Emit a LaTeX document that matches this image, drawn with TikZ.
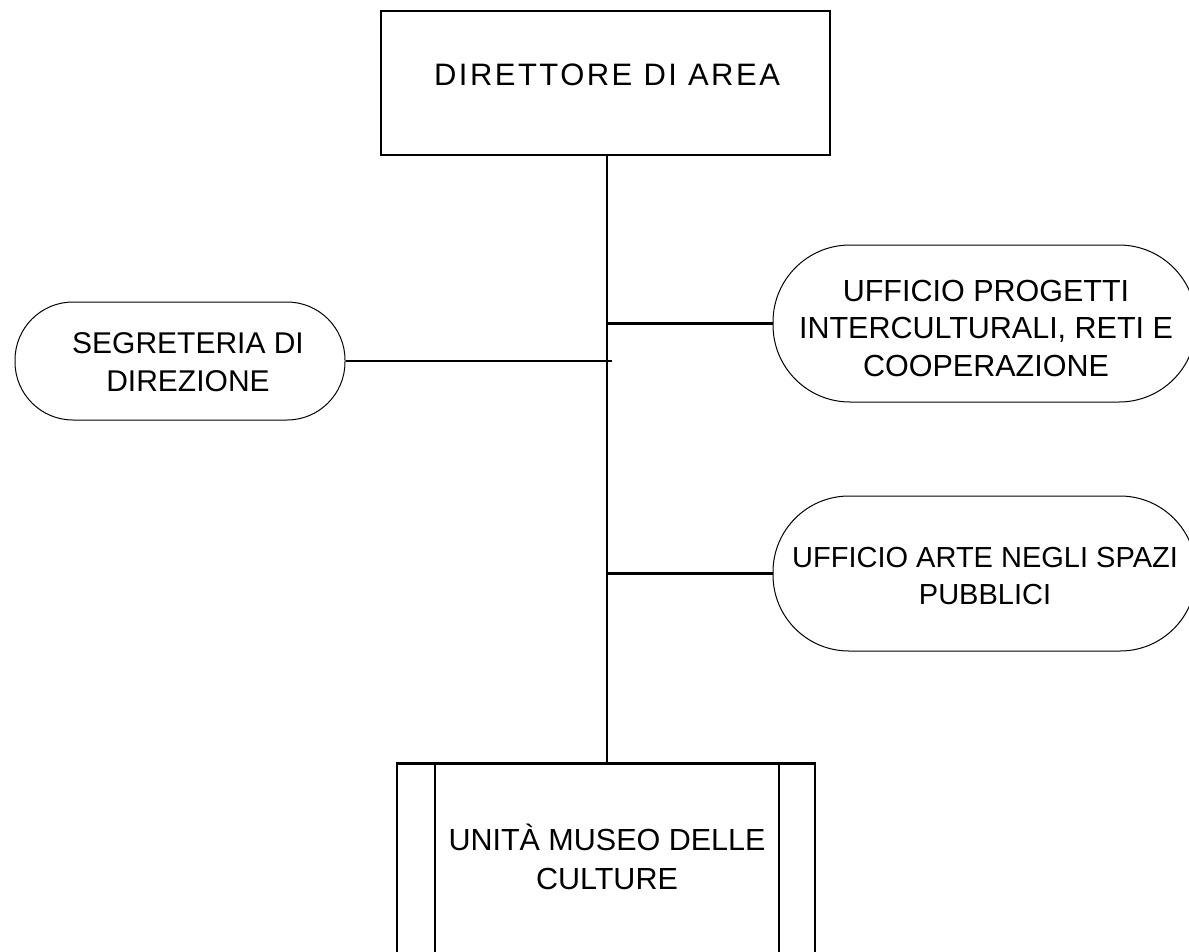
\documentclass[tikz,border=0pt]{standalone}
\usepackage{fontspec}
\setmainfont{Liberation Sans}
\begin{document}
\begin{tikzpicture}[x=1pt,y=-1pt,
  lbl/.style={align=center,inner sep=0pt,font=\fontsize{30}{38}\selectfont},
  boxthick/.style={draw,line width=2.8pt,inner sep=0pt},
  pill/.style={draw,line width=1pt,inner sep=0pt},
  conn/.style={line width=2.8pt}]
\useasboundingbox (0,0) rectangle (1189,951);
% top box
\node[boxthick,minimum width=449pt,minimum height=144pt] (dir) at (605.5,83) {};
\node[lbl,font=\fontsize{31}{38}\selectfont\addfontfeature{LetterSpace=8}] (dirt) at (607,75) {DIRETTORE DI AREA};
% pills
\node[pill,rounded corners=58pt,minimum width=330pt,minimum height=118pt] (seg) at (180,361) {};
\node[lbl] (segt) at (188,362) {SEGRETERIA DI\\DIREZIONE};
\node[pill,rounded corners=77pt,minimum width=423pt,minimum height=157pt] (upi) at (984.5,323.5) {};
\node[lbl,font=\fontsize{30.5}{37.5}\selectfont] (upit) at (986,328) {UFFICIO PROGETTI\\INTERCULTURALI, RETI E\\COOPERAZIONE};
\node[pill,rounded corners=76pt,minimum width=423pt,minimum height=155pt] (uas) at (984.5,573.5) {};
\node[lbl,font=\fontsize{29}{37}\selectfont] (uast) at (985,576) {UFFICIO ARTE NEGLI SPAZI\\PUBBLICI};
% bottom box
\node[boxthick,minimum width=418pt,minimum height=220pt,anchor=north] (mus) at (606,762) {};
\draw[line width=2.8pt] (435,762) -- (435,985);
\draw[line width=2.8pt] (779,762) -- (779,985);
\node[lbl,font=\fontsize{30.5}{39}\selectfont] (must) at (607,857) {UNITÀ MUSEO DELLE\\CULTURE};
% connectors
\coordinate (segend) at (612,361);
\draw[conn] (dir.south -| 607,0) -- (mus.north -| 607,0);
\draw[conn] (seg.east) -- (segend);
\draw[conn] (upi.west -| 607,0) -- (upi.west);
\draw[conn] (uas.west -| 607,0) -- (uas.west);
\end{tikzpicture}
\end{document}
